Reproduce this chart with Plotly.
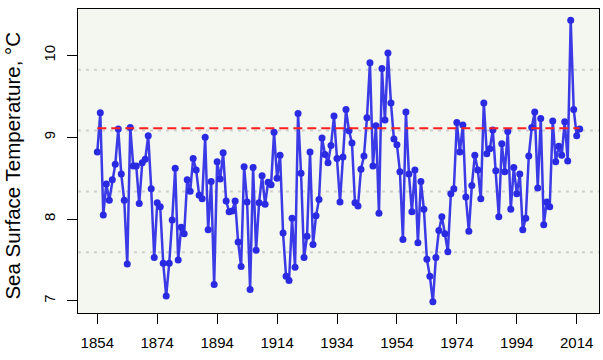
import plotly.graph_objects as go

start_year = 1854
sst = [
    8.82, 9.30, 8.05, 8.43, 8.23, 8.48, 8.67, 9.10, 8.55, 8.23,
    7.45, 9.12, 8.65, 8.65, 8.19, 8.69, 8.73, 9.02, 8.37, 7.53,
    8.20, 8.15, 7.46, 7.06, 7.46, 7.99, 8.62, 7.50, 7.90, 7.82,
    8.48, 8.34, 8.74, 8.60, 8.29, 8.25, 9.00, 7.87, 8.46, 7.20,
    8.70, 8.49, 8.81, 8.22, 8.09, 8.10, 8.22, 7.72, 7.42, 8.64,
    8.21, 7.14, 8.63, 7.62, 8.20, 8.53, 8.18, 8.45, 8.42, 9.06,
    8.50, 8.78, 7.83, 7.30, 7.25, 8.01, 7.41, 9.29, 8.56, 7.53,
    7.79, 8.82, 7.69, 8.04, 8.24, 8.99, 8.79, 8.69, 8.90, 9.26,
    8.74, 8.21, 8.76, 9.34, 9.08, 8.93, 8.20, 8.16, 8.61, 8.77,
    9.24, 9.91, 8.65, 9.14, 8.07, 9.84, 9.21, 10.03, 9.42, 8.98,
    8.91, 8.58, 7.75, 9.31, 8.55, 8.09, 8.60, 7.71, 8.46, 8.12,
    7.51, 7.30, 6.99, 7.53, 7.86, 8.03, 7.82, 7.60, 8.31, 8.37,
    9.18, 8.82, 9.15, 8.27, 7.85, 8.41, 8.78, 8.60, 8.25, 9.42,
    8.80, 8.86, 9.09, 8.59, 8.03, 8.92, 8.58, 9.07, 8.12, 8.63,
    8.31, 8.55, 7.87, 8.01, 8.77, 9.12, 9.31, 8.38, 9.23, 7.93,
    8.21, 8.15, 9.20, 8.70, 8.89, 8.78, 9.19, 8.71, 10.43, 9.34,
    9.02, 9.10,
]
years = [start_year + i for i in range(len(sst))]
threshold = 9.11
x_tick_years = [1854, 1874, 1894, 1914, 1934, 1954, 1974, 1994, 2014]
y_tick_values = [7, 8, 9, 10]
y_title = "Sea Surface Temperature, °C"

font_family = "Liberation Sans, Arial, sans-serif"

# R-style 4% axis extension
xr = (years[-1] - years[0]) * 0.04
yr = (max(sst) - min(sst)) * 0.04
x_range = [years[0] - xr, years[-1] + xr]
y_range = [min(sst) - yr, max(sst) + yr]

fig = go.Figure()

# grid(NA, 5) style horizontal dotted lines
for k in range(1, 5):
    gy = y_range[0] + k * (y_range[1] - y_range[0]) / 5
    fig.add_shape(type="line", xref="paper", yref="y", x0=0, x1=1, y0=gy, y1=gy,
                  line=dict(color="#d0d0d0", width=2, dash="3px,5px"), layer="below")

fig.add_trace(go.Scatter(
    x=years, y=sst, mode="lines+markers",
    line=dict(color="#3a3ae6", width=2.5),
    marker=dict(color="#2a2ae2", size=7),
    showlegend=False, hoverinfo="skip",
))

fig.add_trace(go.Scatter(
    x=[years[0], years[-1]], y=[threshold, threshold], mode="lines",
    line=dict(color="#ff2020", width=2, dash="9px,5px"),
    showlegend=False, hoverinfo="skip",
))

fig.add_annotation(
    text=y_title, xref="paper", yref="paper", x=-0.125, y=0.4845,
    xanchor="center", yanchor="middle", textangle=-90, showarrow=False,
    font=dict(family=font_family, size=20.5, color="black"),
)

fig.update_layout(
    width=603, height=360,
    margin=dict(l=78, r=4, t=9, b=47),
    paper_bgcolor="white",
    plot_bgcolor="#f4f6f0",
    hovermode=False,
    font=dict(family=font_family, size=15, color="black"),
    xaxis=dict(
        range=x_range, tickvals=x_tick_years, ticktext=[str(v) for v in x_tick_years],
        ticks="outside", ticklen=10, tickcolor="black", tickwidth=1,
        showgrid=False, zeroline=False, showline=True, linecolor="black",
        linewidth=1, mirror=True, ticklabelstandoff=6,
    ),
    yaxis=dict(
        range=y_range, tickvals=y_tick_values, ticktext=[str(v) for v in y_tick_values],
        ticks="outside", ticklen=10, tickcolor="black", tickwidth=1, tickangle=-90,
        showgrid=False, zeroline=False, showline=True, linecolor="black",
        linewidth=1, mirror=True, ticklabelstandoff=6,
    ),
)

fig.write_html("out.html", config={"displayModeBar": False},
               post_script="document.body.style.margin='0px';")
